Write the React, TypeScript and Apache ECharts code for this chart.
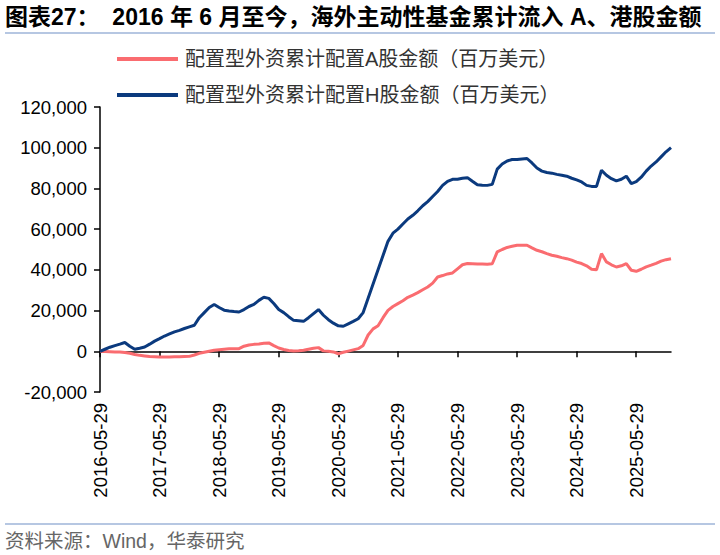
import React, { useEffect, useRef } from "react";
import * as echarts from "echarts";

// Monthly categories, 2016-05 to 2025-12
const categories: string[] = [];
for (let y = 2016; y <= 2025; y++) {
  for (let m = 1; m <= 12; m++) {
    if (y === 2016 && m < 5) continue;
    categories.push(`${y}-${String(m).padStart(2, "0")}-29`);
  }
}

const seriesAName = "配置型外资累计配置A股金额（百万美元）";
const seriesHName = "配置型外资累计配置H股金额（百万美元）";

const seriesA: number[] = [
  0, -100, -200, -300, -300, -600, -1000, -1600, -2000, -2300, -2600, -2700,
  -2800, -2800, -2800, -2700, -2700, -2600, -2500, -1800, -1000, -500, 0, 500,
  800, 1000, 1200, 1300, 1300, 2500, 3100, 3400, 3600, 3900, 4100, 2800,
  1600, 900, 400, 150, 300, 500, 1000, 1500, 1800, 200, 0, -300,
  -1200, -500, 100, 700, 1300, 2900, 8000, 11000, 12500, 16500, 20100, 22000,
  23400, 24800, 26500, 27600, 28800, 30200, 31600, 33500, 36500, 37200, 38000, 38500,
  40500, 42500, 43100, 43000, 42900, 42900, 42800, 43000, 48800, 50000, 51000, 51600,
  52100, 52100, 52100, 50800, 49600, 48900, 48000, 47200, 46700, 46000, 45500, 44800,
  43800, 43100, 42000, 40300, 40000, 48000, 43900, 42500, 41400, 42000, 43100, 39800,
  39300, 40300, 41500, 42300, 43200, 44300, 45000, 45500,
];

const seriesH: number[] = [
  0, 1000, 2000, 2800, 3500, 4300, 2500, 1000, 1500, 2100, 3500, 5000,
  6200, 7500, 8500, 9500, 10300, 11200, 12000, 12800, 16500, 19000, 21500, 23000,
  21500, 20200, 19800, 19500, 19300, 20500, 22000, 23000, 25000, 26500, 26000, 23500,
  20500, 19000, 17000, 15200, 15000, 14700, 16500, 18500, 20500, 17700, 15500, 13800,
  12500, 12300, 13500, 14700, 16000, 19000, 26000, 33000, 40000, 47000, 54000, 58000,
  60000, 62500, 65000, 66800, 69000, 71500, 73500, 76000, 78500, 81500, 83500, 84500,
  84500, 85000, 85300, 83500, 81800, 81600, 81500, 82000, 89500, 92000, 93500, 94200,
  94200, 94500, 94700, 92500, 90000, 88500, 87800, 87500, 86900, 86500, 86000, 85000,
  84200, 83200, 81500, 81000, 81000, 88900, 86500, 84800, 83700, 84500, 86000, 82400,
  83300, 85500, 88500, 91000, 93000, 95500, 98000, 100000,
];

const titleText = "图表27：  2016 年 6 月至今，海外主动性基金累计流入 A、港股金额";
const sourceText = "资料来源：Wind，华泰研究";

const colorA = "#FA6C70";
const colorH = "#0B3A7E";

export default function App() {
  const ref = useRef<HTMLDivElement>(null);
  useEffect(() => {
    if (!ref.current) return;
    const chart = echarts.init(ref.current, undefined, { renderer: "svg" });
    const labelFont = "Liberation Sans, Arial, sans-serif";
    const cjkFont = "Liberation Sans, Noto Sans CJK SC, sans-serif";
    chart.setOption({
      animation: false,
      backgroundColor: "#ffffff",
      grid: { left: 100, right: 49, top: 107, bottom: 163, containLabel: false },
      legend: {
        orient: "vertical",
        left: 117,
        top: 49,
        padding: 0,
        itemWidth: 61,
        itemHeight: 4,
        itemGap: 16,
        icon: "rect",
        textStyle: { fontSize: 20, color: "#333", fontFamily: cjkFont, padding: [0, 0, 0, 2] },
        data: [seriesAName, seriesHName],
      },
      graphic: [
        {
          type: "text",
          left: 5,
          top: 5,
          style: { text: titleText, font: `bold 23px ${cjkFont}`, fill: "#000" },
        },
        {
          type: "line",
          shape: { x1: 5, y1: 33, x2: 715, y2: 33 },
          style: { stroke: "#9EB4D8", lineWidth: 1.5 },
        },
        {
          type: "line",
          shape: { x1: 5, y1: 524, x2: 715, y2: 524 },
          style: { stroke: "#9EB4D8", lineWidth: 1.5 },
        },
        {
          type: "text",
          left: 5,
          top: 531,
          style: { text: sourceText, font: `19.5px ${cjkFont}`, fill: "#666" },
        },
      ],
      xAxis: [
        {
          type: "category",
          data: categories,
          boundaryGap: false,
          axisLine: { onZero: true, lineStyle: { color: "#000", width: 1.5 } },
          axisTick: {
            show: true,
            length: 6,
            interval: (i: number) => i % 12 === 0,
            lineStyle: { color: "#000", width: 1.5 },
          },
          axisLabel: { show: false },
          splitLine: { show: false },
        },
        {
          type: "category",
          data: categories,
          boundaryGap: false,
          position: "bottom",
          axisLine: { show: false, onZero: false },
          axisTick: { show: false },
          axisLabel: {
            show: true,
            rotate: 90,
            margin: 11,
            interval: (i: number) => i % 12 === 0,
            fontSize: 18.5,
            color: "#000",
            fontFamily: labelFont,
          },
          splitLine: { show: false },
        },
      ],
      yAxis: {
        type: "value",
        min: -20000,
        max: 120000,
        interval: 20000,
        axisLine: { show: true, lineStyle: { color: "#000", width: 1.5 } },
        axisTick: { show: true, length: 6, lineStyle: { color: "#000", width: 1.5 } },
        axisLabel: {
          fontSize: 18.5,
          color: "#000",
          fontFamily: labelFont,
          margin: 13,
          formatter: (v: number) => v.toLocaleString("en-US"),
        },
        splitLine: { show: false },
      },
      series: [
        {
          name: seriesAName,
          type: "line",
          data: seriesA,
          showSymbol: false,
          color: colorA,
          lineStyle: { width: 3, color: colorA },
        },
        {
          name: seriesHName,
          type: "line",
          data: seriesH,
          showSymbol: false,
          color: colorH,
          lineStyle: { width: 3, color: colorH },
        },
      ],
    });
    return () => chart.dispose();
  }, []);
  return (
    <div
      ref={ref}
      style={{ position: "fixed", left: 0, top: 0, width: 720, height: 555, background: "#fff" }}
    />
  );
}
